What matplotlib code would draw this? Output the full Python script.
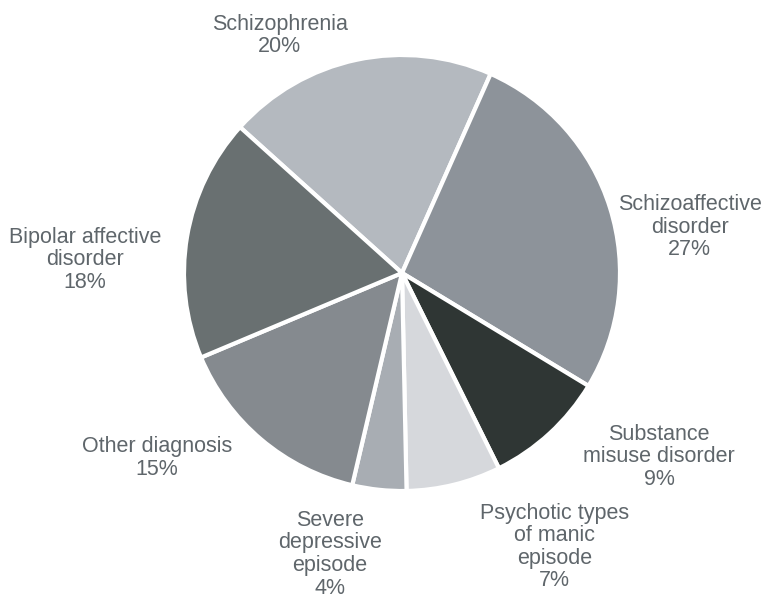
import matplotlib
matplotlib.use("Agg")
import matplotlib.pyplot as plt

labels = ["Schizophrenia", "Schizoaffective\ndisorder", "Substance\nmisuse disorder",
          "Psychotic types\nof manic\nepisode", "Severe\ndepressive\nepisode",
          "Other diagnosis", "Bipolar affective\ndisorder"]
values = [20, 27, 9, 7, 4, 15, 18]
colors = ["#b4b9bf", "#8d939a", "#2f3634", "#d6d8dc", "#a8adb3", "#858a8f", "#697071"]
# label anchors in pie units (radius = 1)
label_pos = [(-0.56, 1.09), (1.32, 0.21), (1.18, -0.844), (0.70, -1.257),
             (-0.33, -1.29), (-1.124, -0.849), (-1.454, 0.06)]

W, H = 779, 599
fig = plt.figure(figsize=(W / 100, H / 100), dpi=100)
cx, cy, r = 402, 273, 218
ax = fig.add_axes([(cx - r) / W, (H - cy - r) / H, 2 * r / W, 2 * r / H])
ax.pie(values, colors=colors, startangle=138, counterclock=False, radius=1,
       wedgeprops=dict(edgecolor="white", linewidth=3))
ax.set_xlim(-1, 1)
ax.set_ylim(-1, 1)
ax.set_aspect("equal")
ax.axis("off")

for lab, v, (x, y) in zip(labels, values, label_pos):
    ax.text(x, y, f"{lab}\n{v}%", ha="center", va="center", fontsize=15.5,
            family="Liberation Sans", color="#5f666b", linespacing=1.1,
            clip_on=False)

fig.savefig("out.png", dpi=100)
